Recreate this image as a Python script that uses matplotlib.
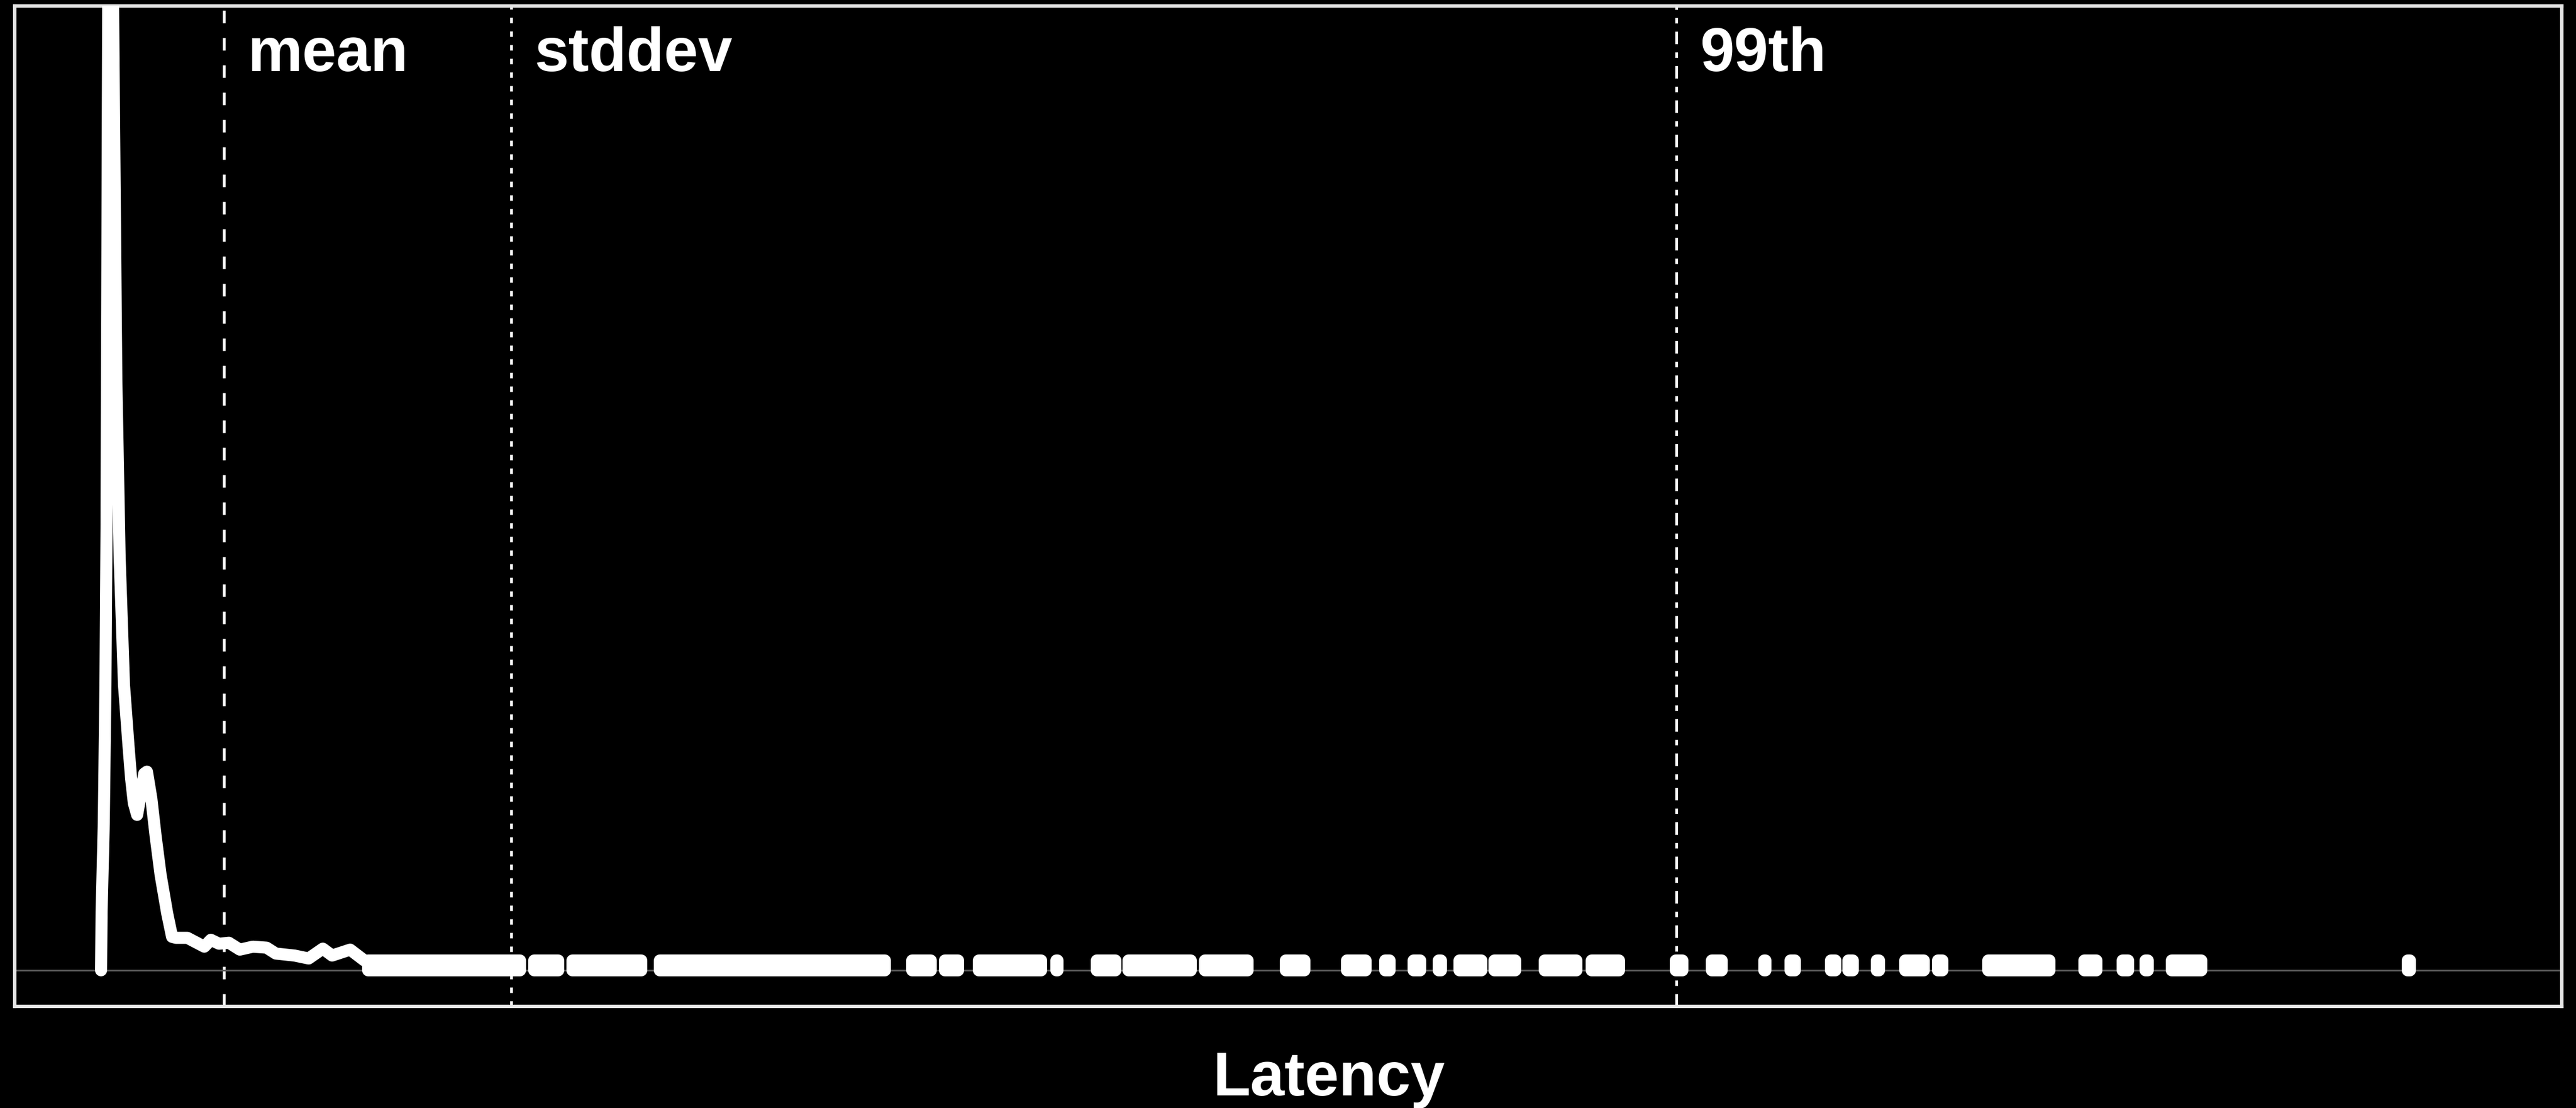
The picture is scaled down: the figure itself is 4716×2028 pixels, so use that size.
import matplotlib
matplotlib.use('Agg')
import matplotlib.pyplot as plt
import numpy as np

plt.rcParams['font.family'] = ['Liberation Sans', 'DejaVu Sans']
plt.rcParams['lines.scale_dashes'] = False

###  DATA  ###

# dense part of the latency histogram (latency in ms, sample count)
head_ms = [-0.025, 0.0, 0.1, 0.175, 0.225, 0.3, 0.4, 0.525, 0.675, 0.825,
           1.025, 1.225, 1.35, 1.475, 1.625, 1.8, 1.95, 2.075, 2.275, 2.475,
           2.7, 3.0, 3.225, 3.4, 3.925, 4.7, 5.0, 5.375, 5.825, 6.325,
           6.925, 7.55, 7.975, 8.825, 9.475, 10.125, 10.55, 11.375, 12.025]
head_count = [0, 6, 15, 29, 45, 98, 130, 98, 60, 42,
              29, 23, 19.5, 17, 15.8, 18, 20, 20.2, 17.5, 13.6,
              9.7, 5.8, 3.4, 3.3, 3.3, 2.4, 3.1, 2.7, 2.8, 2.1,
              2.4, 2.3, 1.7, 1.5, 1.2, 2.2, 1.5, 2.1, 1.0]

# sparse tail: runs of bins holding single samples (start ms, end ms)
tail_start = [12.2, 19.79, 21.54, 25.54, 37.09, 38.59, 40.14, 43.71, 45.56,
              47.01, 50.51, 54.19, 56.99, 58.76, 60.04, 61.21, 62.16, 63.76,
              66.06, 68.19, 72.04, 73.69, 76.11, 77.29, 79.16, 79.96, 81.26,
              82.56, 84.06, 86.36, 90.76, 92.49, 93.54, 94.76, 105.56]
tail_end = [19.16, 20.89, 24.69, 35.84, 37.96, 39.19, 42.99, 43.76, 46.41,
            49.86, 52.44, 55.04, 57.84, 58.94, 60.36, 61.29, 63.14, 64.71,
            67.49, 69.46, 72.34, 74.14, 76.14, 77.49, 79.34, 80.16, 81.36,
            83.39, 84.26, 89.14, 91.29, 92.76, 93.66, 96.11, 105.66]
tail_count = 1

stat_names = ['mean', 'stddev', '99th']
stat_ms = [5.6, 18.75, 72.08]
stat_dashes = [(5.5, 6.5), (2.4, 3.6), (5.5, 3.6, 2.4, 3.6)]

###  PLOT  ###

fig = plt.figure(figsize=(15.72, 6.76), dpi=300, facecolor='black')
ax = fig.add_axes([0.00573, 0.09172, 0.98876, 0.90286])
ax.set_facecolor('black')

lw = 5.3

for name, x, d in zip(stat_names, stat_ms, stat_dashes):
    ax.axvline(x, color='white', lw=1.2, dashes=d, zorder=1)
    ax.annotate(name, xy=(x, 1), xycoords=ax.get_xaxis_transform(),
                xytext=(10.3, -28.6), textcoords='offset points',
                ha='left', va='baseline', color='white',
                fontsize=27, fontweight='bold')

ax.axhline(0, color='#5a5a5a', lw=0.75, zorder=2)

ax.plot(head_ms, head_count, color='white', lw=lw,
        solid_capstyle='round', solid_joinstyle='round', zorder=3)

widths = np.array(tail_end) - np.array(tail_start)
ax.bar(tail_start, [tail_count] * len(tail_start), width=widths, align='edge',
       color='white', edgecolor='white', linewidth=lw, joinstyle='round',
       zorder=3)

ax.set_xlim(-3.975, 112.6)
ax.set_ylim(-3.67, 98.06)
ax.set_xticks([])
ax.set_yticks([])
for s in ax.spines.values():
    s.set_color('#e6e6e6')
    s.set_linewidth(1.5)

ax.set_xlabel('Latency', color='white', fontsize=27, fontweight='bold')
ax.xaxis.set_label_coords(0.516, -0.089)
ax.xaxis.label.set_va('baseline')

fig.savefig('out.png', dpi=300, facecolor='black')
